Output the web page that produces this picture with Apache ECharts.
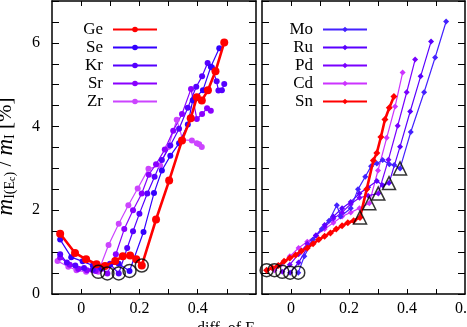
<!DOCTYPE html>
<html><head><meta charset="utf-8">
<script src="https://cdn.jsdelivr.net/npm/echarts@6/dist/echarts.min.js"></script>
<style>html,body{margin:0;padding:0;background:#fff}#c{width:467px;height:327px}</style>
</head><body><div id="c"></div>
<script>
// ---- data ----
const xTicks = [0, 0.1, 0.2, 0.3, 0.4, 0.5];
const xLabelsLeft = [0, 0.2, 0.4];
const xLabelsRight = [0, 0.2, 0.4, 0.6];
const yLabels = [0, 2, 4, 6];

const leftNames = ['Ge', 'Se', 'Kr', 'Sr', 'Zr'];
const rightNames = ['Mo', 'Ru', 'Pd', 'Cd', 'Sn'];

const Ge = [[-0.072,1.44],[-0.021,0.98],[0.017,0.83],[0.053,0.71],[0.082,0.67],[0.117,0.79],[0.143,0.90],[0.168,0.92],[0.189,0.83],[0.208,0.68],[0.257,1.78],[0.302,2.71],[0.346,3.67],[0.376,4.2],[0.397,4.70],[0.414,4.62],[0.435,4.87],[0.461,5.32],[0.491,6.01]];
const Se = [[-0.072,1.30],[-0.034,0.88],[0.005,0.78],[0.04,0.68],[0.069,0.62],[0.099,0.70],[0.129,0.72],[0.166,0.55],[0.214,1.48],[0.25,2.41],[0.277,2.95],[0.306,3.3],[0.336,3.6],[0.366,4.05],[0.383,4.63],[0.418,4.87],[0.445,5.43],[0.474,5.87]];
const Kr = [[-0.072,0.95],[-0.049,0.75],[-0.02,0.68],[0.01,0.62],[0.04,0.58],[0.069,0.63],[0.099,0.72],[0.129,0.49],[0.158,1.1],[0.178,1.5],[0.2,1.92],[0.227,2.4],[0.252,2.8],[0.277,3.2],[0.306,3.55],[0.336,3.95],[0.366,4.45],[0.395,4.95],[0.415,5.2],[0.434,5.52],[0.449,5.41],[0.465,5.08],[0.471,4.86],[0.483,4.87],[0.491,5.02]];
const Sr = [[-0.072,0.87],[-0.039,0.70],[-0.01,0.60],[0.02,0.57],[0.05,0.55],[0.069,0.60],[0.09,0.49],[0.119,0.95],[0.148,1.55],[0.178,2.0],[0.208,2.4],[0.232,2.85],[0.257,3.1],[0.287,3.45],[0.316,3.9],[0.346,4.3],[0.377,4.9],[0.397,4.18],[0.415,4.3],[0.432,4.44],[0.445,4.38]];
const Zr = [[-0.081,0.79],[-0.044,0.65],[-0.016,0.57],[0.017,0.53],[0.04,0.56],[0.059,0.53],[0.094,1.17],[0.129,1.68],[0.162,2.12],[0.194,2.52],[0.231,2.99],[0.271,3.07],[0.299,3.51],[0.328,4.16],[0.349,3.68],[0.38,3.67],[0.397,3.6],[0.405,3.58],[0.414,3.51]];
const leftMinima = [[0.208,0.68],[0.166,0.55],[0.129,0.49],[0.09,0.49],[0.059,0.53]];

const Mo = [[0.025,0.51],[0.046,0.9],[0.076,1.3],[0.106,1.55],[0.131,1.75],[0.158,2.12],[0.171,1.85],[0.206,2.05],[0.231,2.5],[0.256,2.8],[0.276,3.05],[0.296,3.12],[0.316,3.2],[0.339,3.1],[0.356,3.08],[0.376,3.0],[0.413,3.87],[0.459,4.82],[0.497,5.65],[0.535,6.51]];
const Ru = [[-0.003,0.51],[0.026,0.75],[0.056,1.1],[0.086,1.4],[0.116,1.65],[0.146,1.85],[0.176,2.05],[0.206,2.2],[0.236,2.4],[0.266,2.55],[0.296,2.7],[0.316,2.6],[0.338,2.65],[0.376,3.52],[0.411,4.36],[0.447,5.2],[0.483,6.03]];
const Pd = [[-0.03,0.53],[-0.004,0.7],[0.026,0.95],[0.056,1.2],[0.086,1.4],[0.116,1.6],[0.146,1.8],[0.176,1.95],[0.206,2.15],[0.236,2.3],[0.266,2.35],[0.301,2.4],[0.336,3.21],[0.368,4.02],[0.399,4.82],[0.428,5.6]];
const Cd = [[-0.057,0.57],[-0.034,0.7],[-0.004,0.9],[0.026,1.1],[0.056,1.25],[0.086,1.4],[0.116,1.55],[0.146,1.7],[0.176,1.85],[0.206,1.95],[0.236,2.05],[0.27,2.17],[0.3,2.95],[0.33,3.73],[0.359,4.48],[0.385,5.29]];
const Sn = [[-0.084,0.57],[-0.064,0.62],[-0.044,0.68],[-0.024,0.78],[-0.004,0.86],[0.016,0.93],[0.036,1.03],[0.056,1.1],[0.076,1.2],[0.096,1.3],[0.116,1.38],[0.136,1.46],[0.156,1.55],[0.176,1.63],[0.196,1.7],[0.216,1.75],[0.238,1.83],[0.261,2.5],[0.284,3.19],[0.296,3.37],[0.31,3.75],[0.324,4.17],[0.339,4.45],[0.355,4.72]];
const rightStarts = [[-0.084,0.57],[-0.057,0.57],[-0.03,0.53],[-0.003,0.51],[0.025,0.51]];
const rightBreaks = [[0.238,1.83],[0.27,2.17],[0.301,2.4],[0.338,2.65],[0.376,3.0]];

// ---- styling ----
const FONT = 'Liberation Serif';
const colors = {Ge:'#ff0000', Se:'#3300ff', Kr:'#5500ff', Sr:'#8a00ff', Zr:'#cc44ff',
                Mo:'#4422ff', Ru:'#5a00ff', Pd:'#7a00ff', Cd:'#cc33ff', Sn:'#ff0000'};

function xAx(gi, pos, labels) {
  return {type:'value', gridIndex:gi, position:pos, min:-0.1, max:0.6, interval:0.1,
    axisLine:{show:true, onZero:false, lineStyle:{color:'#000', width:1.5}},
    axisTick:{show:true, inside:true, length:5, customValues:xTicks, lineStyle:{color:'#000', width:1}},
    axisLabel:{show:!!labels, customValues:labels || [], margin:7, color:'#000', fontFamily:FONT, fontSize:16,
      alignMinLabel:'center', alignMaxLabel:'center', hideOverlap:false, formatter:v => String(v)},
    splitLine:{show:false}};
}
function yAx(gi, pos, labels, name) {
  const a = {type:'value', gridIndex:gi, position:pos, min:0, max:7, interval:0.5,
    axisLine:{show:true, onZero:false, lineStyle:{color:'#000', width:1.5}},
    axisTick:{show:true, inside:true, length:7, lineStyle:{color:'#000', width:1}},
    axisLabel:{show:!!labels, customValues:labels || [], margin:12, color:'#000', fontFamily:FONT, fontSize:16},
    splitLine:{show:false}};
  if (name) {
    a.name = '{m|m}{s|I(E}{ss|c}{s|)}{n| / }{m|m}{s|I}{n| [%]}';
    a.nameLocation = 'middle';
    a.nameRotate = 90;
    a.nameGap = 35;
    a.nameTextStyle = {fontFamily:FONT, color:'#000', padding:[0,18,0,0], rich:{
      m:{fontFamily:FONT, fontStyle:'italic', fontSize:23, color:'#000'},
      s:{fontFamily:FONT, fontSize:14, color:'#000', verticalAlign:'bottom', lineHeight:16},
      ss:{fontFamily:FONT, fontSize:10, color:'#000', verticalAlign:'bottom', lineHeight:11},
      n:{fontFamily:FONT, fontSize:21, color:'#000'}}};
  }
  return a;
}

function line(name, data, gi, symbol, size, width) {
  return {name, type:'line', data, xAxisIndex:gi*2, yAxisIndex:gi*2,
    symbol, symbolSize:size, showSymbol:true,
    lineStyle:{color:colors[name], width}, itemStyle:{color:colors[name]},
    emphasis:{disabled:true}, z: name === 'Ge' || name === 'Sn' ? 4 : 3};
}
function marks(data, gi, symbol, size) {
  return {type:'scatter', data, xAxisIndex:gi*2, yAxisIndex:gi*2, symbol, symbolSize:size,
    itemStyle:{color:'rgba(0,0,0,0)', borderColor:'#000', borderWidth:1.5}, z:5,
    emphasis:{disabled:true}};
}

const legendCommon = {orient:'vertical', align:'right', padding:0, itemWidth:44, itemHeight:7, itemGap:1,
  textStyle:{fontFamily:FONT, fontSize:17, color:'#000', width:43, align:'right', lineHeight:15, padding:[0,5,0,0]}};

const option = {
  animation:false,
  backgroundColor:'#fff',
  grid:[
    {left:52, top:1, width:204, height:293, show:false, outerBoundsMode:'none', containLabel:false},
    {left:262, top:1, width:203, height:293, show:false, outerBoundsMode:'none', containLabel:false}
  ],
  xAxis:[xAx(0,'bottom',xLabelsLeft), xAx(0,'top',null), xAx(1,'bottom',xLabelsRight), xAx(1,'top',null)],
  yAxis:[yAx(0,'left',yLabels,true), yAx(0,'right',null), yAx(1,'left',null), yAx(1,'right',null)],
  legend:[
    Object.assign({data:leftNames, left:60, top:21}, legendCommon),
    Object.assign({data:rightNames, left:270, top:21}, legendCommon)
  ],
  graphic:[{type:'text', left:197, top:321, style:{text:'diff. of E', fontFamily:FONT, fontSize:16, fill:'#000'}}],
  series:[
    line('Zr', Zr, 0, 'circle', 6, 1.2),
    line('Sr', Sr, 0, 'circle', 6, 1.2),
    line('Kr', Kr, 0, 'circle', 6, 1.2),
    line('Se', Se, 0, 'circle', 6, 1.2),
    line('Ge', Ge, 0, 'circle', 8, 2.6),
    marks(leftMinima, 0, 'circle', 13),
    line('Cd', Cd, 1, 'diamond', 6, 1.2),
    line('Pd', Pd, 1, 'diamond', 6, 1.2),
    line('Ru', Ru, 1, 'diamond', 6, 1.2),
    line('Mo', Mo, 1, 'diamond', 6, 1.2),
    line('Sn', Sn, 1, 'diamond', 7, 2.6),
    marks(rightStarts, 1, 'circle', 13),
    marks(rightBreaks, 1, 'triangle', 13)
  ]
};
const chart = echarts.init(document.getElementById('c'), null, {renderer:'canvas'});
chart.setOption(option);
</script></body></html>
